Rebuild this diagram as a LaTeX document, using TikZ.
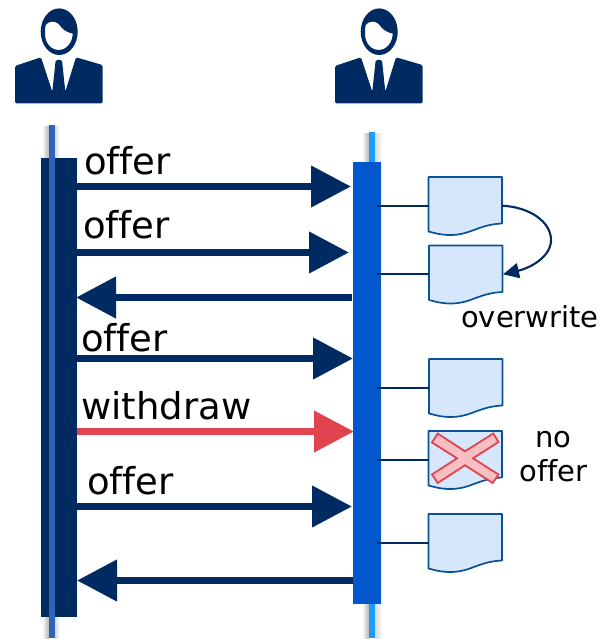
\documentclass[tikz,border=0pt]{standalone}
\usepackage{fontspec}
\setmainfont{DejaVu Sans}[Ligatures={NoCommon,NoRequired,NoContextual}]
\usetikzlibrary{arrows.meta}
\definecolor{navy}{HTML}{002A62}
\definecolor{barblue}{HTML}{0257CC}
\definecolor{thinleft}{HTML}{2F64B8}
\definecolor{thinright}{HTML}{1E9BFF}
\definecolor{redarrow}{HTML}{E2444F}
\definecolor{docfill}{HTML}{D6E6FB}
\definecolor{docline}{HTML}{0A5296}
\definecolor{crossfill}{HTML}{F5BFC3}
\definecolor{shadeleft}{HTML}{B4B4B4}
\definecolor{shaderight}{HTML}{DADADA}
\tikzset{
  bar/.style={inner sep=0pt,outer sep=0pt,draw=none},
  msg/.style={line width=7.5pt,navy,-{Triangle[length=40pt,width=40pt]}},
  withdrawmsg/.style={line width=7.5pt,redarrow,-{Triangle[length=40pt,width=40pt]}},
  lbl/.style={anchor=base west,inner sep=0pt,font=\fontsize{37}{40}\selectfont,text=black},
  smalllbl/.style={inner sep=0pt,font=\fontsize{29}{32}\selectfont,text=black},
  docbox/.style={fill=docfill,draw=docline,line width=1.7pt,line join=round},
  docframe/.style={inner sep=0pt,outer sep=0pt,minimum width=73.5pt,minimum height=46.5pt,anchor=north west},
  tieline/.style={navy,line width=1.7pt},
}
\newcommand{\person}[1]{%
  \begin{scope}[xshift=#1pt]
    \fill[navy,even odd rule] (59.2,31.7) ellipse [x radius=18.5,y radius=23.3]
      (45.7,25) .. controls (48,22) and (52,21) .. (55,22)
      .. controls (59,23) and (60,26) .. (62,28)
      .. controls (65,31) and (69,33) .. (72.7,33.5)
      .. controls (72.7,43) and (66,50) .. (58.8,50)
      .. controls (51,50) and (45,43) .. (45,34)
      .. controls (45,30) and (45,27) .. (45.7,25) -- cycle;
    \fill[navy,rounded corners=1.5pt] (15,103.5) -- (15,66) -- (41,57.3) -- (52.3,91.7)
      -- (55.7,60) -- (62,60) -- (65.3,91.7) -- (76,57.3) -- (102.5,65) -- (102.5,103.5) -- cycle;
  \end{scope}}
\newcommand{\docshape}[3]{% name, x, top y
  \begin{scope}[shift={(#2pt,-#3pt)}]
    \draw[docbox] (0,0) -- (73.5,0) -- (73.5,46.5)
      .. controls (50,47.5) and (42,58) .. (22,58)
      .. controls (12,58) and (6,56) .. (0,54.5) -- cycle;
    \node[docframe] (#1) at (0,0) {};
  \end{scope}}
\begin{document}
\begin{tikzpicture}[x=1pt,y=-1pt]
\useasboundingbox (0,0) rectangle (602,639);
\person{0}
\person{320}
% shadows of the lifelines
\shade[left color=white,right color=shadeleft,draw=none] (42,127) rectangle (49,640);
\shade[left color=shaderight,right color=white,draw=none] (55,127) rectangle (60,640);
\shade[left color=white,right color=shadeleft,draw=none] (362,134) rectangle (369,640);
\shade[left color=shaderight,right color=white,draw=none] (375,134) rectangle (383,640);
% activation bars and lifelines
\node[bar,fill=navy,minimum width=36pt,minimum height=459pt] (leftbar) at (59,387.5) {};
\node[bar,fill=thinleft,minimum width=6pt,minimum height=513pt] (leftline) at (52,381.5) {};
\node[bar,fill=thinright,minimum width=6pt,minimum height=506pt] (rightline) at (372,385) {};
\node[bar,fill=barblue,minimum width=28pt,minimum height=442pt] (rightbar) at (367,383) {};
% message ends
\coordinate (a1) at (351,186.5);
\coordinate (a2) at (349,252.5);
\coordinate (a3) at (352,297.5);
\coordinate (a4) at (353,358.5);
\coordinate (a5) at (354,431.5);
\coordinate (a6) at (352,506.5);
\coordinate (a7) at (353,580.5);
\draw[msg] (leftbar.east |- a1) -- (a1);
\draw[msg] (leftbar.east |- a2) -- (a2);
\draw[msg] (a3) -- (76,297.5);
\draw[msg] (leftbar.east |- a4) -- (a4);
\draw[withdrawmsg] (leftbar.east |- a5) -- (a5);
\draw[msg] (leftbar.east |- a6) -- (a6);
\draw[msg] (a7) -- (leftbar.east |- a7);
% labels
\node[lbl] (t1) at (84,175) {offer};
\node[lbl] (t2) at (83,238) {offer};
\node[lbl] (t3) at (81,351) {offer};
\node[lbl] (t4) at (81,419) {withdraw};
\node[lbl] (t5) at (87,494) {offer};
% documents
\docshape{d1}{428.5}{177}
\docshape{d2}{429}{245.5}
\docshape{d3}{429}{359}
\docshape{d4}{428.5}{431}
\docshape{d5}{428.5}{514}
\coordinate (c1) at (377,206);
\coordinate (c2) at (377,274);
\coordinate (c3) at (377,388);
\coordinate (c4) at (377,460);
\coordinate (c5) at (377,543);
\foreach \i in {1,...,5} \draw[tieline] (c\i) -- (c\i -| d\i.west);
% overwrite arrow
\coordinate (ov1) at (502,205.7);
\coordinate (ov2) at (503,274.3);
\draw[navy,line width=2.1pt,-{Triangle[length=16pt,width=15pt]}] (ov1)
  .. controls (530,207) and (551,222) .. (551,240)
  .. controls (551,257) and (530,268) .. (ov2);
\node[lbl,font=\fontsize{29}{32}\selectfont] (ow) at (461,327) {overwrite};
% cross
\draw[fill=crossfill,draw=redarrow,line width=1.8pt,line join=miter]
  (432,442.5) -- (437.7,433.5) -- (465,451.3) -- (493.3,433.5) -- (498.5,442)
  -- (473,458.3) -- (498.5,474.5) -- (492.7,483) -- (465,465.3) -- (437.7,483)
  -- (432,474.5) -- (457,458.3) -- cycle;
\node[smalllbl,anchor=base] (no) at (553.5,447) {no};
\node[smalllbl,anchor=base] (of) at (553.5,481) {offer};
\end{tikzpicture}
\end{document}
